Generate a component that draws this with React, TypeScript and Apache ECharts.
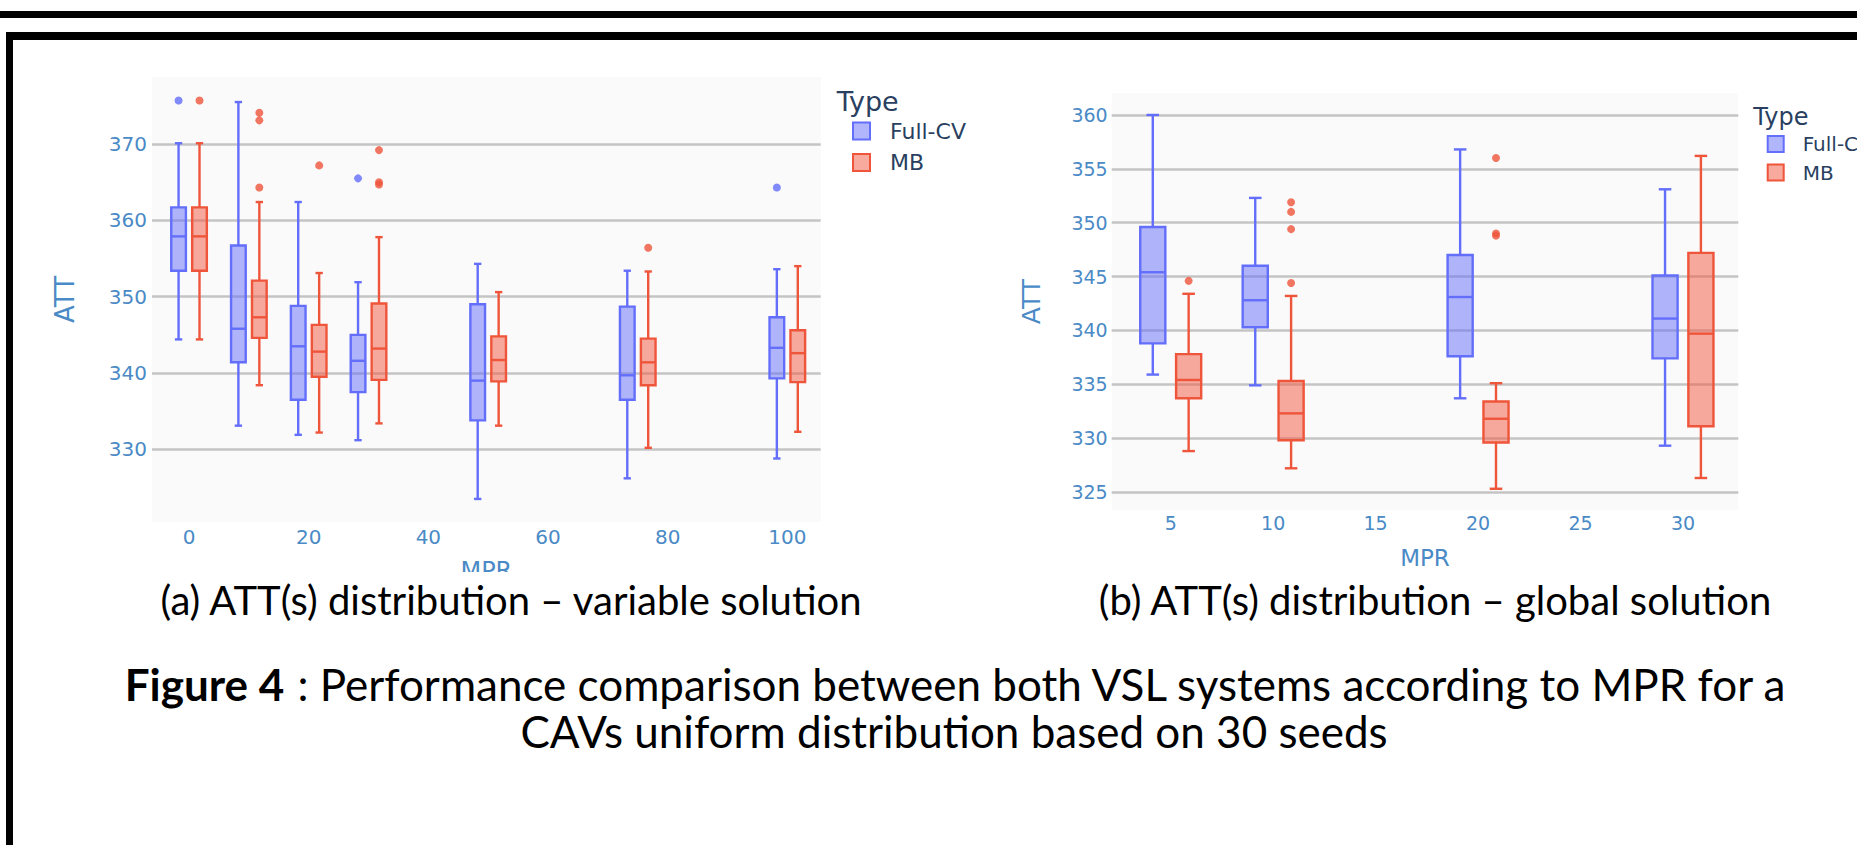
import React, { useEffect, useRef } from "react";
import * as echarts from "echarts";

// ---------- DATA ----------
// Left panel (a): variable solution
const leftMPR = [0, 10, 20, 30, 50, 75, 100];
// each entry: [lower whisker, Q1, median, Q3, upper whisker]
const leftFullCV = [
  [344.4, 353.4, 357.9, 361.7, 370.1],
  [333.1, 341.4, 345.8, 356.7, 375.5],
  [331.9, 336.5, 343.5, 348.8, 362.4],
  [331.2, 337.5, 341.6, 345.0, 351.9],
  [323.5, 333.8, 339.0, 349.0, 354.3],
  [326.2, 336.5, 339.7, 348.7, 353.4],
  [328.8, 339.3, 343.3, 347.3, 353.6],
];
const leftMB = [
  [344.4, 353.4, 357.9, 361.7, 370.1],
  [338.4, 344.6, 347.3, 352.1, 362.4],
  [332.2, 339.5, 342.8, 346.3, 353.1],
  [333.4, 339.1, 343.2, 349.1, 357.8],
  [333.1, 338.9, 341.7, 344.8, 350.6],
  [330.2, 338.4, 341.4, 344.5, 353.3],
  [332.3, 338.8, 342.6, 345.6, 354.0],
];
const leftFullCVOutliers = [[375.7], [], [], [365.5], [], [], [364.3]];
const leftMBOutliers = [[375.7], [374.1, 373.1, 364.3], [367.2], [369.2, 365.0, 364.7], [], [356.4], []];

// Right panel (b): global solution
const rightMPR = [5, 10, 20, 30];
const rightFullCV = [
  [335.9, 338.8, 345.4, 349.6, 360.0],
  [334.9, 340.3, 342.8, 346.0, 352.3],
  [333.7, 337.6, 343.1, 347.0, 356.8],
  [329.3, 337.4, 341.1, 345.1, 353.1],
];
const rightMB = [
  [328.8, 333.7, 335.4, 337.8, 343.4],
  [327.2, 329.8, 332.3, 335.3, 343.2],
  [325.3, 329.6, 331.8, 333.4, 335.1],
  [326.3, 331.1, 339.7, 347.2, 356.2],
];
const rightFullCVOutliers = [[], [], [], []];
const rightMBOutliers = [[344.6], [351.9, 351.0, 349.4, 344.4], [356.0, 349.0, 348.8], []];

// Tick labels
const leftXTicks = [0, 20, 40, 60, 80, 100];
const leftYTicks = [330, 340, 350, 360, 370];
const rightXTicks = [5, 10, 15, 20, 25, 30];
const rightYTicks = [325, 330, 335, 340, 345, 350, 355, 360];

const seriesNames = ["Full-CV", "MB"];
const legendTitle = "Type";
const xName = "MPR";
const yName = "ATT";
const captionA = "(a) ATT(s) distribution \u2013 variable solution";
const captionB = "(b) ATT(s) distribution \u2013 global solution";
const figureLabel = "Figure 4";
const figureLine1 = " : Performance comparison between both VSL systems according to MPR for a";
const figureLine2 = "CAVs uniform distribution based on 30 seeds";

// ---------- STYLE ----------
const BLUE = "#636efa";
const BLUE_FILL = "rgba(99,110,250,0.5)";
const RED = "#ef553b";
const RED_FILL = "rgba(239,85,59,0.5)";
const TICK_COLOR = "#4a8ac6";
const LEGEND_COLOR = "#2a3f5f";
const GRID_COLOR = "#c4c4c4";
const FONT = "DejaVu Sans";

function boxRenderer(offset: number, halfW: number, stroke: string, fill: string, lw: number) {
  return (params: any, api: any) => {
    const x = api.value(0) + offset;
    const lo = api.value(1);
    const q1 = api.value(2);
    const md = api.value(3);
    const q3 = api.value(4);
    const hi = api.value(5);
    const pLo = api.coord([x, lo]);
    const pQ1 = api.coord([x, q1]);
    const pMd = api.coord([x, md]);
    const pQ3 = api.coord([x, q3]);
    const pHi = api.coord([x, hi]);
    const xl = api.coord([x - halfW, md])[0];
    const xr = api.coord([x + halfW, md])[0];
    const cl = api.coord([x - halfW / 2, md])[0];
    const cr = api.coord([x + halfW / 2, md])[0];
    const xc = pMd[0];
    const ls = { stroke, lineWidth: lw, fill: "none" };
    return {
      type: "group",
      children: [
        { type: "line", shape: { x1: xc, y1: pHi[1], x2: xc, y2: pQ3[1] }, style: ls },
        { type: "line", shape: { x1: xc, y1: pLo[1], x2: xc, y2: pQ1[1] }, style: ls },
        { type: "line", shape: { x1: cl, y1: pHi[1], x2: cr, y2: pHi[1] }, style: ls },
        { type: "line", shape: { x1: cl, y1: pLo[1], x2: cr, y2: pLo[1] }, style: ls },
        {
          type: "rect",
          shape: { x: xl, y: pQ3[1], width: xr - xl, height: pQ1[1] - pQ3[1] },
          style: { fill, stroke, lineWidth: lw },
        },
        { type: "line", shape: { x1: xl, y1: pMd[1], x2: xr, y2: pMd[1] }, style: ls },
      ],
    };
  };
}

function boxData(mpr: number[], stats: number[][]) {
  return mpr.map((m, i) => [m, ...stats[i]]);
}

function outlierData(mpr: number[], outs: number[][], offset: number) {
  const res: number[][] = [];
  mpr.forEach((m, i) => outs[i].forEach((v) => res.push([m + offset, v])));
  return res;
}

export default function App() {
  const ref = useRef<HTMLDivElement>(null);

  useEffect(() => {
    if (!ref.current) return;
    const chart = echarts.init(ref.current, null, { renderer: "svg" });

    const lOff = 1.75, lHalf = 1.225;
    const rOff = 0.875, rHalf = 0.6125;
    const lw = 2.4;

    const yAxisCommon = (ticks: number[], fs: number, margin: number, gap: number, nfs: number) => ({
      type: "value",
      axisLine: { show: false },
      axisTick: { show: false, customValues: ticks },
      axisLabel: { customValues: ticks, color: TICK_COLOR, fontSize: fs, fontFamily: FONT, margin },
      splitLine: { show: true, customValues: ticks, lineStyle: { color: GRID_COLOR, width: 2.6 } },
      name: yName,
      nameLocation: "middle",
      nameGap: gap,
      nameTextStyle: { color: TICK_COLOR, fontSize: nfs, fontFamily: FONT },
    });
    const xAxisCommon = (ticks: number[], fs: number, margin: number, gap: number, nfs: number) => ({
      type: "value",
      axisLine: { show: false },
      axisTick: { show: false, customValues: ticks },
      axisLabel: { customValues: ticks, color: TICK_COLOR, fontSize: fs, fontFamily: FONT, margin },
      splitLine: { show: false },
      name: xName,
      nameLocation: "middle",
      nameGap: gap,
      nameTextStyle: { color: TICK_COLOR, fontSize: nfs, fontFamily: FONT },
    });

    const legendCommon = (left: number, top: number, fs: number, lh: number, gap: number, pad: number, size: number) => ({
      orient: "vertical",
      left,
      top,
      padding: 0,
      icon: "rect",
      itemWidth: size,
      itemHeight: size,
      itemGap: gap,
      selectedMode: false,
      textStyle: { color: LEGEND_COLOR, fontSize: fs, fontFamily: FONT, lineHeight: lh, padding: [0, 0, 0, pad] },
      data: [
        { name: seriesNames[0], itemStyle: { color: BLUE_FILL, borderColor: BLUE, borderWidth: 2 } },
        { name: seriesNames[1], itemStyle: { color: RED_FILL, borderColor: RED, borderWidth: 2 } },
      ],
    });

    const option: any = {
      animation: false,
      backgroundColor: "#ffffff",
      title: [
        { text: legendTitle, left: 836.7, top: 88, padding: 0, textStyle: { color: LEGEND_COLOR, fontSize: 27, fontWeight: "normal", fontFamily: FONT } },
        { text: legendTitle, left: 1753.3, top: 104.5, padding: 0, textStyle: { color: LEGEND_COLOR, fontSize: 24, fontWeight: "normal", fontFamily: FONT } },
      ],
      legend: [legendCommon(852, 120, 22, 20, 9.4, 15, 17), legendCommon(1766.7, 134, 20, 19, 8.5, 14, 16)],
      grid: [
        { left: 152, top: 77, width: 668.7, height: 445, show: true, backgroundColor: "#fafafa", borderWidth: 0 },
        { left: 1111.7, top: 93.3, width: 626.6, height: 416.7, show: true, backgroundColor: "#fafafa", borderWidth: 0 },
      ],
      xAxis: [
        { ...xAxisCommon(leftXTicks, 20, 5, 37, 24), gridIndex: 0, min: -6.19, max: 105.58 },
        { ...xAxisCommon(rightXTicks, 19, 3, 36, 23), gridIndex: 1, min: 2.12, max: 32.7 },
      ],
      yAxis: [
        { ...yAxisCommon(leftYTicks, 20, 5, 74, 26), gridIndex: 0, min: 320.48, max: 378.78 },
        { ...yAxisCommon(rightYTicks, 19, 4, 68, 25), gridIndex: 1, min: 323.33, max: 362.01 },
      ],
      series: [
        {
          type: "custom", name: seriesNames[0], xAxisIndex: 0, yAxisIndex: 0,
          renderItem: boxRenderer(-lOff, lHalf, BLUE, BLUE_FILL, lw),
          encode: { x: 0, y: [1, 2, 3, 4, 5] },
          itemStyle: { color: BLUE },
          data: boxData(leftMPR, leftFullCV),
        },
        {
          type: "custom", name: seriesNames[1], xAxisIndex: 0, yAxisIndex: 0,
          renderItem: boxRenderer(lOff, lHalf, RED, RED_FILL, lw),
          encode: { x: 0, y: [1, 2, 3, 4, 5] },
          itemStyle: { color: RED },
          data: boxData(leftMPR, leftMB),
        },
        {
          type: "scatter", name: seriesNames[0], xAxisIndex: 0, yAxisIndex: 0,
          symbolSize: 8, itemStyle: { color: BLUE }, silent: true,
          data: outlierData(leftMPR, leftFullCVOutliers, -lOff),
        },
        {
          type: "scatter", name: seriesNames[1], xAxisIndex: 0, yAxisIndex: 0,
          symbolSize: 8, itemStyle: { color: RED }, silent: true,
          data: outlierData(leftMPR, leftMBOutliers, lOff),
        },
        {
          type: "custom", name: seriesNames[0], xAxisIndex: 1, yAxisIndex: 1,
          renderItem: boxRenderer(-rOff, rHalf, BLUE, BLUE_FILL, lw),
          encode: { x: 0, y: [1, 2, 3, 4, 5] },
          itemStyle: { color: BLUE },
          data: boxData(rightMPR, rightFullCV),
        },
        {
          type: "custom", name: seriesNames[1], xAxisIndex: 1, yAxisIndex: 1,
          renderItem: boxRenderer(rOff, rHalf, RED, RED_FILL, lw),
          encode: { x: 0, y: [1, 2, 3, 4, 5] },
          itemStyle: { color: RED },
          data: boxData(rightMPR, rightMB),
        },
        {
          type: "scatter", name: seriesNames[0], xAxisIndex: 1, yAxisIndex: 1,
          symbolSize: 8, itemStyle: { color: BLUE }, silent: true,
          data: outlierData(rightMPR, rightFullCVOutliers, -rOff),
        },
        {
          type: "scatter", name: seriesNames[1], xAxisIndex: 1, yAxisIndex: 1,
          symbolSize: 8, itemStyle: { color: RED }, silent: true,
          data: outlierData(rightMPR, rightMBOutliers, rOff),
        },
      ],
      graphic: [
        // page frame lines
        { type: "rect", z: 100, silent: true, shape: { x: 0, y: 11, width: 1857, height: 7 }, style: { fill: "#000" } },
        { type: "rect", z: 100, silent: true, shape: { x: 6, y: 32, width: 1851, height: 8 }, style: { fill: "#000" } },
        { type: "rect", z: 100, silent: true, shape: { x: 6, y: 32, width: 7, height: 813 }, style: { fill: "#000" } },
        // cut-off of left screenshot
        { type: "rect", z: 100, silent: true, shape: { x: 140, y: 572, width: 720, height: 14 }, style: { fill: "#fff" } },
        {
          type: "text", z: 101, silent: true,
          style: { text: captionA, x: 511, y: 600, fill: "#000", fontSize: 40, fontFamily: "Lato", align: "center", verticalAlign: "middle", textAlign: "center", textVerticalAlign: "middle" },
        },
        {
          type: "text", z: 101, silent: true,
          style: { text: captionB, x: 1435, y: 600, fill: "#000", fontSize: 40, fontFamily: "Lato", align: "center", verticalAlign: "middle", textAlign: "center", textVerticalAlign: "middle" },
        },
        {
          type: "text", z: 101, silent: true,
          style: {
            text: "{b|" + figureLabel + "}" + figureLine1,
            x: 956, y: 684, fill: "#000", fontSize: 44, fontFamily: "Lato",
            align: "center", verticalAlign: "middle", textAlign: "center", textVerticalAlign: "middle",
            rich: { b: { fontWeight: "bold", fontSize: 44, fontFamily: "Lato", fill: "#000" } },
          },
        },
        {
          type: "text", z: 101, silent: true,
          style: { text: figureLine2, x: 954, y: 731, fill: "#000", fontSize: 44, fontFamily: "Lato", align: "center", verticalAlign: "middle", textAlign: "center", textVerticalAlign: "middle" },
        },
      ],
    };

    chart.setOption(option);
    return () => chart.dispose();
  }, []);

  return (
    <div
      ref={ref}
      style={{ position: "fixed", left: 0, top: 0, width: 1857, height: 845, background: "#fff" }}
    />
  );
}
